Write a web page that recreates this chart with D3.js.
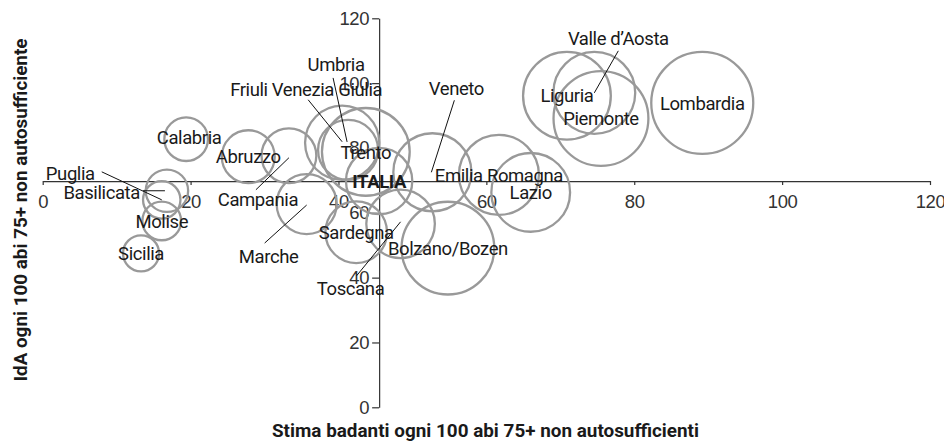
<!DOCTYPE html>
<html>
<head>
<meta charset="utf-8">
<script src="https://cdn.jsdelivr.net/npm/d3@7"></script>
<style>
  body { margin: 0; background: #fff; }
  svg { display: block; font-family: Roboto, "Liberation Sans", sans-serif; }
  .axis text { fill: #333; font-size: 18.5px; font-family: inherit; letter-spacing: -0.4px; }
  .axis path, .axis line { stroke: #333; stroke-width: 1.2; }
</style>
</head>
<body>
<div id="chart"></div>
<script>
// Bubble chart: badanti vs IdA per region (Italia = axes crossing)
const regions = ['Piemonte', "Valle d\u2019Aosta", 'Lombardia', 'Liguria', 'Bolzano/Bozen', 'Trento',
  'Veneto', 'Friuli Venezia Giulia', 'Emilia Romagna', 'Toscana', 'Umbria', 'Marche', 'Lazio',
  'Abruzzo', 'Molise', 'Campania', 'Puglia', 'Basilicata', 'Calabria', 'Sicilia', 'Sardegna'];
const badanti = [75.5, 74.6, 89.2, 70.9, 54.8, 43.7, 52.7, 40.5, 61.7, 48.4, 41.3, 35.7, 66.0,
  27.8, 16.1, 33.3, 16.1, 16.8, 19.4, 13.3, 42.4];
const ida = [89.1, 97.0, 93.9, 96.1, 49.1, 78.8, 72.5, 81.6, 71.7, 56.6, 79.4, 62.7, 66.3,
  77.3, 57.5, 77.6, 64.0, 66.8, 82.7, 47.5, 54.0];
const bubbleSize = [90, 67, 104, 77, 86, 77, 61, 55, 64, 47, 36, 36, 62,
  28, 15, 30, 14, 18, 19, 13, 38];
const italia = { name: 'ITALIA', x: 45.5, y: 69.8, size: 44 };
const xTicks = [0, 20, 40, 60, 80, 100, 120];
const yTicks = [0, 20, 40, 60, 80, 100, 120];

// label placement (pixel offsets from bubble centre) and leader lines
const labelPos = {
  'Puglia': { dx: -67, dy: -26, anchor: 'end', line: [-60, -28, 0, 0] },
  'Basilicata': { dx: -27, dy: 2, anchor: 'end', line: [-24, 0, -2, 0] },
  'Campania': { dx: -31, dy: 44, line: [-33, 34, 0, 2] },
  'Marche': { dx: -38, dy: 52, line: [-42, 39, 0, 1] },
  'Toscana': { dx: -50, dy: 65, line: [-44, 52, 0, -2] },
  'Veneto': { dx: 24, dy: -84, line: [22, -72, -1, 0] },
  'Friuli Venezia Giulia': { dx: -36, dy: -53, line: [-34, -43, 0, -1] },
  'Umbria': { dx: -12, dy: -86, line: [-15, -72, -1, -8] },
  "Valle d\u2019Aosta": { dx: 24, dy: -55, line: [24, -42, 0, 0] },
  'Calabria': { dx: 3, dy: -2 }
};

const W = 944, H = 441;
const svg = d3.select('#chart').append('svg')
  .attr('width', W).attr('height', H);

const x = d3.scaleLinear().domain([0, 120]).range([42.7, 930]);
const y = d3.scaleLinear().domain([0, 120]).range([407.3, 18.3]);
const r = d3.scaleSqrt().domain([0, 100]).range([0, 50]);

const data = regions.map((name, i) => ({ name, x: badanti[i], y: ida[i], size: bubbleSize[i] }));
const all = data.concat([italia]);

// axes cross at the Italia values
svg.append('g')
  .attr('class', 'axis x-axis')
  .attr('transform', `translate(0,${y(italia.y)})`)
  .call(d3.axisBottom(x).tickValues(xTicks).tickSize(4).tickSizeOuter(0).tickPadding(10));

svg.append('g')
  .attr('class', 'axis y-axis')
  .attr('transform', `translate(${x(italia.x)},0)`)
  .call(d3.axisLeft(y).tickValues(yTicks).tickSize(7).tickSizeOuter(0).tickPadding(3));

// bubbles
svg.append('g').selectAll('circle')
  .data(all)
  .join('circle')
  .attr('cx', d => x(d.x))
  .attr('cy', d => y(d.y))
  .attr('r', d => r(d.size))
  .style('fill', 'none')
  .style('stroke', '#999')
  .style('stroke-width', 2.3);

// leader lines
svg.append('g').selectAll('line')
  .data(data.filter(d => labelPos[d.name] && labelPos[d.name].line))
  .join('line')
  .attr('x1', d => x(d.x) + labelPos[d.name].line[0])
  .attr('y1', d => y(d.y) + labelPos[d.name].line[1])
  .attr('x2', d => x(d.x) + labelPos[d.name].line[2])
  .attr('y2', d => y(d.y) + labelPos[d.name].line[3])
  .style('stroke', '#111')
  .style('stroke-width', 1);

// labels
svg.append('g').selectAll('text')
  .data(all)
  .join('text')
  .attr('x', d => x(d.x) + (labelPos[d.name] ? labelPos[d.name].dx : 0))
  .attr('y', d => y(d.y) + (labelPos[d.name] ? labelPos[d.name].dy : 0))
  .attr('dy', '0.36em')
  .attr('text-anchor', d => (labelPos[d.name] && labelPos[d.name].anchor) || 'middle')
  .style('font-size', '18.5px')
  .style('letter-spacing', '-0.4px')
  .style('font-weight', d => d.name === 'ITALIA' ? 'bold' : 'normal')
  .style('fill', '#1a1a1a')
  .text(d => d.name);

// axis titles
svg.append('text')
  .attr('x', 485.5)
  .attr('y', 437)
  .attr('text-anchor', 'middle')
  .attr('textLength', 427)
  .attr('lengthAdjust', 'spacingAndGlyphs')
  .style('font-size', '19px')
  .style('font-weight', 'bold')
  .style('fill', '#1a1a1a')
  .text('Stima badanti ogni 100 abi 75+ non autosufficienti');

svg.append('text')
  .attr('transform', 'translate(27,210) rotate(-90)')
  .attr('text-anchor', 'middle')
  .attr('textLength', 343)
  .attr('lengthAdjust', 'spacingAndGlyphs')
  .style('font-size', '19px')
  .style('font-weight', 'bold')
  .style('fill', '#1a1a1a')
  .text('IdA ogni 100 abi 75+ non autosufficiente');
</script>
</body>
</html>
